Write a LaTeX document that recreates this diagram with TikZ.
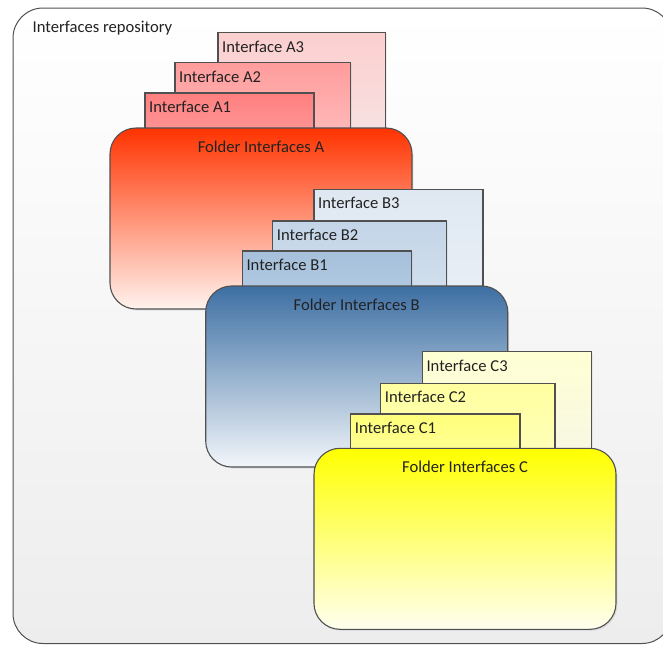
\documentclass[tikz,border=0pt]{standalone}
\usepackage{fontspec}
\setmainfont{Carlito}
\usetikzlibrary{shadows}
\definecolor{edge}{HTML}{505050}
\definecolor{txt}{HTML}{222222}
\definecolor{a3t}{HTML}{FDCFCF}\definecolor{a3b}{HTML}{F6E2E2}
\definecolor{a2t}{HTML}{FF9C9C}\definecolor{a2b}{HTML}{FFBCBC}
\definecolor{a1t}{HTML}{FF7F7F}\definecolor{a1b}{HTML}{FF9A9A}
\definecolor{fat}{HTML}{FF3300}\definecolor{fab}{HTML}{FFF3EE}
\definecolor{b3t}{HTML}{DFE8F2}\definecolor{b3b}{HTML}{E9EFF6}
\definecolor{b2t}{HTML}{C3D5E8}\definecolor{b2b}{HTML}{D3E0EE}
\definecolor{b1t}{HTML}{A6C0DB}\definecolor{b1b}{HTML}{B3CBE2}
\definecolor{fbt}{HTML}{3D6FA3}\definecolor{fbb}{HTML}{F2F6FA}
\definecolor{c3t}{HTML}{FFFFD4}\definecolor{c3b}{HTML}{F7F7E4}
\definecolor{c2t}{HTML}{FFFFA0}\definecolor{c2b}{HTML}{FFFFBB}
\definecolor{c1t}{HTML}{FFFF7A}\definecolor{c1b}{HTML}{FFFF99}
\definecolor{fct}{HTML}{FFFF00}\definecolor{fcb}{HTML}{FFFFF0}
\definecolor{repob}{HTML}{EDEDED}
\tikzset{
  base/.style={draw=edge, line width=1.1pt, inner sep=0pt, outer sep=0pt, anchor=north west, rectangle},
  ifbox/.style={base, drop shadow={opacity=0.12, shadow xshift=1.2pt, shadow yshift=-1.2pt}},
  folder/.style={base, rounded corners=26pt, minimum width=302pt, minimum height=181pt,
    drop shadow={opacity=0.15, shadow xshift=1.5pt, shadow yshift=-1.5pt}},
  iflbl/.style={anchor=base west, inner sep=0pt, xshift=4pt, yshift=-19.5pt, text=txt},
  fldlbl/.style={anchor=base, inner sep=0pt, yshift=-24pt, text=txt},
}
\begin{document}
\begin{tikzpicture}[x=1pt, y=-1pt, font=\fontsize{16.6}{20}\selectfont]
\useasboundingbox (0,0) rectangle (663,645);
% outer repository
\node[base, rounded corners=30pt, line width=1pt, top color=white, bottom color=repob,
  minimum width=659pt, minimum height=635.5pt,
  label={[anchor=base west, inner sep=0pt, xshift=19.5pt, yshift=-24.3pt, text=txt]north west:Interfaces repository}]
  (repo) at (13,8) {};
% ---- A ----
\node[ifbox, minimum width=167.5pt, minimum height=107pt, top color=a3t, bottom color=a3b,
  label={[iflbl]north west:Interface A3}] (a3) at (218,32.7) {};
\node[ifbox, minimum width=175.7pt, minimum height=77pt, top color=a2t, bottom color=a2b,
  label={[iflbl]north west:Interface A2}] (a2) at (175,62.7) {};
\node[ifbox, minimum width=169pt, minimum height=47pt, top color=a1t, bottom color=a1b,
  label={[iflbl]north west:Interface A1}] (a1) at (145,93) {};
\node[folder, top color=fat, bottom color=fab,
  label={[fldlbl]north:Folder Interfaces A}] (fa) at (110,128) {};
% ---- B ----
\node[ifbox, minimum width=169pt, minimum height=108.7pt, top color=b3t, bottom color=b3b,
  label={[iflbl]north west:Interface B3}] (b3) at (314,189.3) {};
\node[ifbox, minimum width=174pt, minimum height=77pt, top color=b2t, bottom color=b2b,
  label={[iflbl]north west:Interface B2}] (b2) at (272.7,221) {};
\node[ifbox, minimum width=169.4pt, minimum height=47pt, top color=b1t, bottom color=b1b,
  label={[iflbl]north west:Interface B1}] (b1) at (242.3,251) {};
\node[folder, top color=fbt, bottom color=fbb,
  label={[fldlbl]north:Folder Interfaces B}] (fb) at (205.7,286) {};
% ---- C ----
\node[ifbox, minimum width=169.4pt, minimum height=108.3pt, top color=c3t, bottom color=c3b,
  label={[iflbl]north west:Interface C3}] (c3) at (422.3,351.7) {};
\node[ifbox, minimum width=174.3pt, minimum height=77pt, top color=c2t, bottom color=c2b,
  label={[iflbl]north west:Interface C2}] (c2) at (380.7,383.3) {};
\node[ifbox, minimum width=169.3pt, minimum height=46pt, top color=c1t, bottom color=c1b,
  label={[iflbl]north west:Interface C1}] (c1) at (350.7,414) {};
\node[folder, top color=fct, bottom color=fcb,
  label={[fldlbl]north:Folder Interfaces C}] (fc) at (314,448.3) {};
\end{tikzpicture}
\end{document}
